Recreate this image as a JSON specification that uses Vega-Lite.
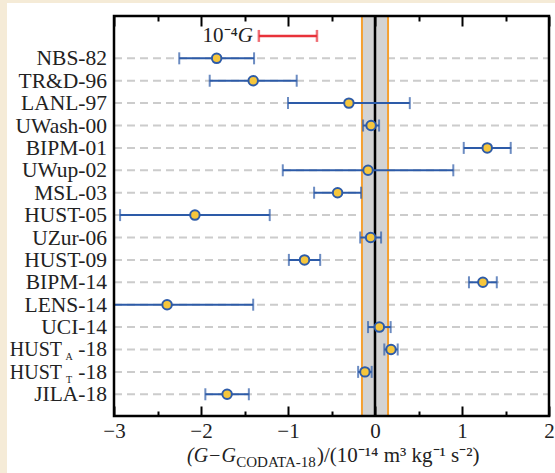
{
  "$schema": "https://vega.github.io/schema/vega-lite/v6.json",
  "autosize": "none",
  "width": 435,
  "height": 400,
  "padding": {"left": 114, "top": 16, "right": 6, "bottom": 57},
  "background": "#f5ebd7",
  "config": {"view": {"stroke": null}},
  "datasets": {
    "g": [
      {"idx": 1, "name": "NBS-82", "base": "NBS-82", "sub": "", "suffix": "", "value": -1.82, "lo": -2.25, "hi": -1.39},
      {"idx": 2, "name": "TR&D-96", "base": "TR&D-96", "sub": "", "suffix": "", "value": -1.40, "lo": -1.90, "hi": -0.90},
      {"idx": 3, "name": "LANL-97", "base": "LANL-97", "sub": "", "suffix": "", "value": -0.30, "lo": -1.00, "hi": 0.40},
      {"idx": 4, "name": "UWash-00", "base": "UWash-00", "sub": "", "suffix": "", "value": -0.045, "lo": -0.137, "hi": 0.047},
      {"idx": 5, "name": "BIPM-01", "base": "BIPM-01", "sub": "", "suffix": "", "value": 1.29, "lo": 1.02, "hi": 1.56},
      {"idx": 6, "name": "UWup-02", "base": "UWup-02", "sub": "", "suffix": "", "value": -0.08, "lo": -1.06, "hi": 0.90},
      {"idx": 7, "name": "MSL-03", "base": "MSL-03", "sub": "", "suffix": "", "value": -0.43, "lo": -0.70, "hi": -0.16},
      {"idx": 8, "name": "HUST-05", "base": "HUST-05", "sub": "", "suffix": "", "value": -2.07, "lo": -2.93, "hi": -1.21},
      {"idx": 9, "name": "UZur-06", "base": "UZur-06", "sub": "", "suffix": "", "value": -0.05, "lo": -0.17, "hi": 0.07},
      {"idx": 10, "name": "HUST-09", "base": "HUST-09", "sub": "", "suffix": "", "value": -0.81, "lo": -0.99, "hi": -0.63},
      {"idx": 11, "name": "BIPM-14", "base": "BIPM-14", "sub": "", "suffix": "", "value": 1.24, "lo": 1.08, "hi": 1.40},
      {"idx": 12, "name": "LENS-14", "base": "LENS-14", "sub": "", "suffix": "", "value": -2.39, "lo": -3.38, "hi": -1.40},
      {"idx": 13, "name": "UCI-14", "base": "UCI-14", "sub": "", "suffix": "", "value": 0.05, "lo": -0.08, "hi": 0.18},
      {"idx": 14, "name": "HUST_A-18", "base": "HUST", "sub": "A", "suffix": "-18", "value": 0.184, "lo": 0.107, "hi": 0.261},
      {"idx": 15, "name": "HUST_T-18", "base": "HUST", "sub": "T", "suffix": "-18", "value": -0.116, "lo": -0.194, "hi": -0.038},
      {"idx": 16, "name": "JILA-18", "base": "JILA-18", "sub": "", "suffix": "", "value": -1.70, "lo": -1.95, "hi": -1.45}
    ],
    "codata": [{"lo": -0.15, "hi": 0.15}],
    "scalebar": [{"lo": -1.335, "hi": -0.667}]
  },
  "resolve": {"axis": {"x": "independent"}},
  "layer": [
    {
      "data": {"values": [{}]},
      "mark": {"type": "rect", "fill": "white"},
      "encoding": {
        "x": {"datum": -4.23, "type": "quantitative", "scale": {"domain": [-3, 2], "nice": false, "zero": false}, "axis": null},
        "x2": {"datum": 2.2},
        "y": {"datum": -1.47, "type": "quantitative", "scale": {"domain": [-0.89, 16.97], "reverse": true, "nice": false, "zero": false}, "axis": null},
        "y2": {"datum": 20}
      }
    },
    {
      "data": {"name": "g"},
      "mark": {"type": "rule", "stroke": "#cccccc", "strokeWidth": 2, "strokeDash": [8, 5]},
      "encoding": {
        "x": {"datum": -3, "type": "quantitative", "scale": {"domain": [-3, 2], "nice": false, "zero": false}, "axis": null},
        "x2": {"datum": 2},
        "y": {"field": "idx", "type": "quantitative", "scale": {"domain": [-0.89, 16.97], "reverse": true, "nice": false, "zero": false}, "axis": null}
      }
    },
    {
      "data": {"name": "codata"},
      "mark": {"type": "rect", "fill": "#d3d3d3"},
      "encoding": {
        "x": {"field": "lo", "type": "quantitative", "scale": {"domain": [-3, 2], "nice": false, "zero": false}, "axis": null},
        "x2": {"field": "hi"},
        "y": {"datum": -0.89, "type": "quantitative", "scale": {"domain": [-0.89, 16.97], "reverse": true, "nice": false, "zero": false}, "axis": null},
        "y2": {"datum": 16.97}
      }
    },
    {
      "data": {"name": "codata"},
      "mark": {"type": "rule", "stroke": "#f5a030", "strokeWidth": 2},
      "encoding": {
        "x": {"field": "lo", "type": "quantitative", "scale": {"domain": [-3, 2], "nice": false, "zero": false}, "axis": null},
        "y": {"datum": -0.89, "type": "quantitative", "scale": {"domain": [-0.89, 16.97], "reverse": true, "nice": false, "zero": false}, "axis": null},
        "y2": {"datum": 16.97}
      }
    },
    {
      "data": {"name": "codata"},
      "mark": {"type": "rule", "stroke": "#f5a030", "strokeWidth": 2},
      "encoding": {
        "x": {"field": "hi", "type": "quantitative", "scale": {"domain": [-3, 2], "nice": false, "zero": false}, "axis": null},
        "y": {"datum": -0.89, "type": "quantitative", "scale": {"domain": [-0.89, 16.97], "reverse": true, "nice": false, "zero": false}, "axis": null},
        "y2": {"datum": 16.97}
      }
    },
    {
      "data": {"values": [{}]},
      "mark": {"type": "rule", "stroke": "black", "strokeWidth": 2.5},
      "encoding": {
        "x": {"datum": 0, "type": "quantitative", "scale": {"domain": [-3, 2], "nice": false, "zero": false}, "axis": null},
        "y": {"datum": -0.89, "type": "quantitative", "scale": {"domain": [-0.89, 16.97], "reverse": true, "nice": false, "zero": false}, "axis": null},
        "y2": {"datum": 16.97}
      }
    },
    {
      "data": {"name": "g"},
      "mark": {"type": "rule", "stroke": "#2d5ba8", "strokeWidth": 2, "clip": true},
      "encoding": {
        "x": {"field": "lo", "type": "quantitative", "scale": {"domain": [-3, 2], "nice": false, "zero": false},
          "axis": {"orient": "top", "values": [-3, -2.5, -2, -1.5, -1, -0.5, 0, 0.5, 1, 1.5, 2], "labels": false, "domain": false, "grid": false, "title": null, "tickColor": "black", "tickWidth": 2, "tickSize": -10, "tickDash": {"condition": {"test": "datum.value % 1 !== 0", "value": [5, 40]}, "value": [40, 0]}, "zindex": 1}},
        "x2": {"field": "hi"},
        "y": {"field": "idx", "type": "quantitative", "scale": {"domain": [-0.89, 16.97], "reverse": true, "nice": false, "zero": false}, "axis": null}
      }
    },
    {
      "data": {"name": "g"},
      "mark": {"type": "tick", "orient": "vertical", "color": "#2d5ba8", "size": 12, "thickness": 2, "clip": true},
      "encoding": {
        "x": {"field": "lo", "type": "quantitative", "scale": {"domain": [-3, 2], "nice": false, "zero": false}, "axis": null},
        "y": {"field": "idx", "type": "quantitative", "scale": {"domain": [-0.89, 16.97], "reverse": true, "nice": false, "zero": false}, "axis": null}
      }
    },
    {
      "data": {"name": "g"},
      "mark": {"type": "tick", "orient": "vertical", "color": "#2d5ba8", "size": 12, "thickness": 2, "clip": true},
      "encoding": {
        "x": {"field": "hi", "type": "quantitative", "scale": {"domain": [-3, 2], "nice": false, "zero": false}, "axis": null},
        "y": {"field": "idx", "type": "quantitative", "scale": {"domain": [-0.89, 16.97], "reverse": true, "nice": false, "zero": false}, "axis": null}
      }
    },
    {
      "data": {"name": "g"},
      "mark": {"type": "point", "shape": "circle", "filled": true, "fill": "#f6c63c", "stroke": "#2d5ba8", "strokeWidth": 2, "size": 90, "opacity": 1},
      "encoding": {
        "x": {"field": "value", "type": "quantitative", "scale": {"domain": [-3, 2], "nice": false, "zero": false},
          "axis": {"orient": "bottom", "values": [-3, -2.5, -2, -1.5, -1, -0.5, 0, 0.5, 1, 1.5, 2], "labelExpr": "datum.value % 1 === 0 ? format(datum.value, 'd') : ''", "domain": false, "grid": false, "title": null, "tickColor": "black", "tickWidth": 2, "tickSize": -10, "tickDash": {"condition": {"test": "datum.value % 1 !== 0", "value": [5, 40]}, "value": [40, 0]}, "labelFont": "Liberation Serif", "labelFontSize": 21, "labelColor": "#222222", "labelPadding": 14, "labelFlush": false, "labelOverlap": false, "zindex": 1}},
        "y": {"field": "idx", "type": "quantitative", "scale": {"domain": [-0.89, 16.97], "reverse": true, "nice": false, "zero": false}, "axis": null}
      }
    },
    {
      "data": {"name": "scalebar"},
      "mark": {"type": "rule", "stroke": "#e8323a", "strokeWidth": 2.5},
      "encoding": {
        "x": {"field": "lo", "type": "quantitative", "scale": {"domain": [-3, 2], "nice": false, "zero": false}, "axis": null},
        "x2": {"field": "hi"},
        "y": {"datum": 0, "type": "quantitative", "scale": {"domain": [-0.89, 16.97], "reverse": true, "nice": false, "zero": false}, "axis": null}
      }
    },
    {
      "data": {"name": "scalebar"},
      "mark": {"type": "tick", "orient": "vertical", "color": "#e8323a", "size": 12, "thickness": 2.5},
      "encoding": {
        "x": {"field": "lo", "type": "quantitative", "scale": {"domain": [-3, 2], "nice": false, "zero": false}, "axis": null},
        "y": {"datum": 0, "type": "quantitative", "scale": {"domain": [-0.89, 16.97], "reverse": true, "nice": false, "zero": false}, "axis": null}
      }
    },
    {
      "data": {"name": "scalebar"},
      "mark": {"type": "tick", "orient": "vertical", "color": "#e8323a", "size": 12, "thickness": 2.5},
      "encoding": {
        "x": {"field": "hi", "type": "quantitative", "scale": {"domain": [-3, 2], "nice": false, "zero": false}, "axis": null},
        "y": {"datum": 0, "type": "quantitative", "scale": {"domain": [-0.89, 16.97], "reverse": true, "nice": false, "zero": false}, "axis": null}
      }
    },
    {
      "data": {"name": "scalebar"},
      "mark": {"type": "text", "text": "G", "font": "Liberation Serif", "fontSize": 21, "fontStyle": "italic", "align": "right", "baseline": "middle", "dx": -6, "color": "#222222"},
      "encoding": {
        "x": {"field": "lo", "type": "quantitative", "scale": {"domain": [-3, 2], "nice": false, "zero": false}, "axis": null},
        "y": {"datum": 0, "type": "quantitative", "scale": {"domain": [-0.89, 16.97], "reverse": true, "nice": false, "zero": false}, "axis": null}
      }
    },
    {
      "data": {"name": "scalebar"},
      "mark": {"type": "text", "text": "10⁻⁴", "font": "Liberation Serif", "fontSize": 21, "align": "right", "baseline": "middle", "dx": -21, "color": "#222222"},
      "encoding": {
        "x": {"field": "lo", "type": "quantitative", "scale": {"domain": [-3, 2], "nice": false, "zero": false}, "axis": null},
        "y": {"datum": 0, "type": "quantitative", "scale": {"domain": [-0.89, 16.97], "reverse": true, "nice": false, "zero": false}, "axis": null}
      }
    },
    {
      "data": {"values": [{}]},
      "mark": {"type": "rect", "filled": false, "stroke": "black", "strokeWidth": 2.5},
      "encoding": {
        "x": {"datum": -3, "type": "quantitative", "scale": {"domain": [-3, 2], "nice": false, "zero": false}, "axis": null},
        "x2": {"datum": 2},
        "y": {"datum": -0.89, "type": "quantitative", "scale": {"domain": [-0.89, 16.97], "reverse": true, "nice": false, "zero": false}, "axis": null},
        "y2": {"datum": 16.97}
      }
    },
    {
      "data": {"name": "g"},
      "transform": [{"filter": "datum.sub === ''"}],
      "mark": {"type": "text", "font": "Liberation Serif", "fontSize": 21.5, "align": "right", "baseline": "middle", "dx": -7, "dy": 1, "color": "#222222"},
      "encoding": {
        "text": {"field": "base"},
        "x": {"datum": -3, "type": "quantitative", "scale": {"domain": [-3, 2], "nice": false, "zero": false}, "axis": null},
        "y": {"field": "idx", "type": "quantitative", "scale": {"domain": [-0.89, 16.97], "reverse": true, "nice": false, "zero": false}, "axis": null}
      }
    },
    {
      "data": {"name": "g"},
      "transform": [{"filter": "datum.sub !== ''"}],
      "mark": {"type": "text", "font": "Liberation Serif", "fontSize": 21.5, "align": "right", "baseline": "middle", "dx": -7, "dy": 1, "color": "#222222"},
      "encoding": {
        "text": {"field": "suffix"},
        "x": {"datum": -3, "type": "quantitative", "scale": {"domain": [-3, 2], "nice": false, "zero": false}, "axis": null},
        "y": {"field": "idx", "type": "quantitative", "scale": {"domain": [-0.89, 16.97], "reverse": true, "nice": false, "zero": false}, "axis": null}
      }
    },
    {
      "data": {"name": "g"},
      "transform": [{"filter": "datum.sub !== ''"}],
      "mark": {"type": "text", "font": "Liberation Serif", "fontSize": 10, "align": "center", "baseline": "middle", "dx": -45, "dy": 8, "color": "#222222"},
      "encoding": {
        "text": {"field": "sub"},
        "x": {"datum": -3, "type": "quantitative", "scale": {"domain": [-3, 2], "nice": false, "zero": false}, "axis": null},
        "y": {"field": "idx", "type": "quantitative", "scale": {"domain": [-0.89, 16.97], "reverse": true, "nice": false, "zero": false}, "axis": null}
      }
    },
    {
      "data": {"name": "g"},
      "transform": [{"filter": "datum.sub !== ''"}],
      "mark": {"type": "text", "font": "Liberation Serif", "fontSize": 20, "align": "right", "baseline": "middle", "dx": -52, "dy": 1, "color": "#222222"},
      "encoding": {
        "text": {"field": "base"},
        "x": {"datum": -3, "type": "quantitative", "scale": {"domain": [-3, 2], "nice": false, "zero": false}, "axis": null},
        "y": {"field": "idx", "type": "quantitative", "scale": {"domain": [-0.89, 16.97], "reverse": true, "nice": false, "zero": false}, "axis": null}
      }
    },
    {
      "data": {"values": [{}]},
      "mark": {"type": "text", "text": "(G−G", "font": "Liberation Serif", "fontSize": 20, "fontStyle": "italic", "align": "left", "baseline": "alphabetic", "color": "#222222"},
      "encoding": {
        "x": {"datum": -2.161, "type": "quantitative", "scale": {"domain": [-3, 2], "nice": false, "zero": false}, "axis": null},
        "y": {"datum": 19.02, "type": "quantitative", "scale": {"domain": [-0.89, 16.97], "reverse": true, "nice": false, "zero": false}, "axis": null}
      }
    },
    {
      "data": {"values": [{}]},
      "mark": {"type": "text", "text": "CODATA-18", "font": "Liberation Serif", "fontSize": 15, "align": "left", "baseline": "alphabetic", "dy": 5, "color": "#222222"},
      "encoding": {
        "x": {"datum": -1.595, "type": "quantitative", "scale": {"domain": [-3, 2], "nice": false, "zero": false}, "axis": null},
        "y": {"datum": 19.02, "type": "quantitative", "scale": {"domain": [-0.89, 16.97], "reverse": true, "nice": false, "zero": false}, "axis": null}
      }
    },
    {
      "data": {"values": [{}]},
      "mark": {"type": "text", "text": ")/(10⁻¹⁴ m³ kg⁻¹ s⁻²)", "font": "Liberation Serif", "fontSize": 21, "align": "left", "baseline": "alphabetic", "color": "#222222"},
      "encoding": {
        "x": {"datum": -0.667, "type": "quantitative", "scale": {"domain": [-3, 2], "nice": false, "zero": false}, "axis": null},
        "y": {"datum": 19.02, "type": "quantitative", "scale": {"domain": [-0.89, 16.97], "reverse": true, "nice": false, "zero": false}, "axis": null}
      }
    }
  ]
}
